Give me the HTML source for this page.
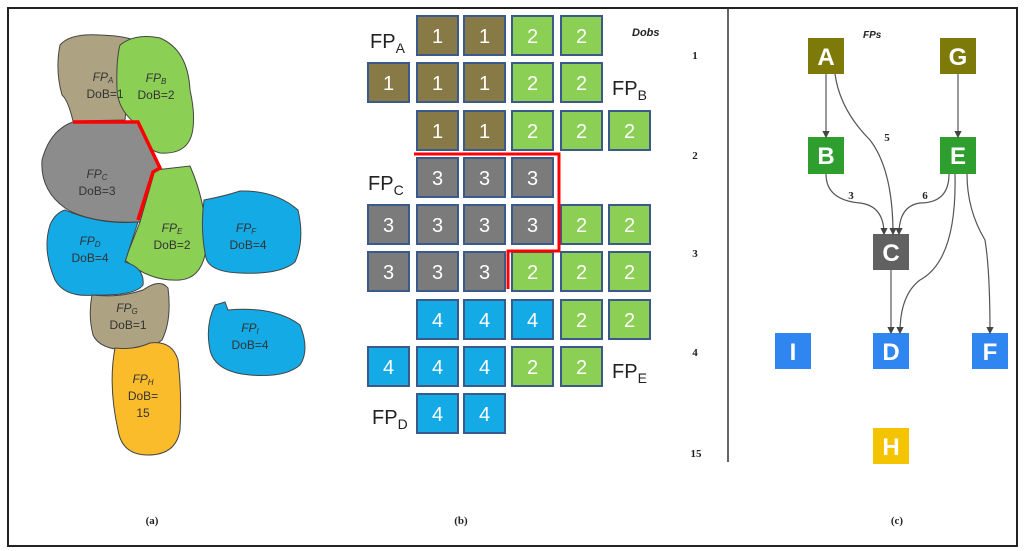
<!DOCTYPE html>
<html><head><meta charset="utf-8"><style>
html,body{margin:0;padding:0;background:#fff;}
svg{display:block;}
.c rect{width:41px;height:39px;stroke:#3a5a8c;stroke-width:2;}
.c text{font-size:20px;fill:#fff;text-anchor:middle;}
.k1 rect{fill:#877a47}.k2 rect{fill:#8ccf55}.k3 rect{fill:#7b7b7b}.k4 rect{fill:#14aae6}
</style></head><body>
<svg width="1024" height="551" viewBox="0 0 1024 551" xmlns="http://www.w3.org/2000/svg" font-family="Liberation Sans, sans-serif">
<rect x="8" y="8" width="1009" height="538" fill="#fff" stroke="#222" stroke-width="2"/>
<line x1="728" y1="8" x2="728" y2="462" stroke="#333" stroke-width="1.5"/>
<g stroke="#444" stroke-width="1">
<path d="M60,45 Q70,33 100,35 Q125,36 133,40 L125,120 L73,121 Q68,100 62,95 Q55,70 60,45Z" fill="#ada383"/>
<path d="M120,45 Q135,33 160,38 Q188,50 190,90 Q195,112 193,128 Q190,155 160,153 Q140,148 137,125 Q118,110 117,90 Q116,60 120,45Z" fill="#8ccf55"/>
<path d="M73,122 L138,122 L160,168 L140,222 Q90,224 65,208 Q40,190 42,160 Q50,130 73,122Z" fill="#8c8c8c"/>
<path d="M155,170 L190,166 Q205,200 207,240 Q205,278 180,280 Q150,282 125,260 L140,222Z" fill="#8ccf55"/>
<path d="M65,210 Q100,225 138,222 L125,262 Q145,268 143,285 Q135,296 95,295 Q65,298 55,280 Q42,250 50,225 Q55,213 65,210Z" fill="#14aae6"/>
<path d="M204,200 Q225,196 240,191 Q275,190 298,210 Q305,240 295,262 Q280,275 240,273 Q210,272 206,258 Q200,230 204,200Z" fill="#14aae6"/>
<path d="M215,305 L225,302 L228,310 Q275,306 300,325 Q310,350 300,365 Q285,378 250,375 Q215,372 210,350 Q205,325 215,305Z" fill="#14aae6"/>
<path d="M92,295 Q120,298 143,290 Q160,278 168,288 Q172,320 162,340 Q150,350 128,350 Q100,350 93,335 Q88,315 92,295Z" fill="#ada383"/>
<path d="M115,348 Q135,350 150,343 Q172,340 178,360 Q182,395 180,430 Q176,455 148,455 Q122,455 118,430 Q108,385 115,348Z" fill="#fbbc2c"/>
</g>
<path d="M73,122 L138,122 L160,168 L153,172 L138,220" fill="none" stroke="#f00" stroke-width="3.5"/>
<g font-size="12" fill="#333" text-anchor="middle">
<text x="103" y="81" font-style="italic">FP<tspan font-size="8" dy="2">A</tspan></text><text x="105" y="98">DoB=1</text>
<text x="156" y="82" font-style="italic">FP<tspan font-size="8" dy="2">B</tspan></text><text x="156" y="99">DoB=2</text>
<text x="97" y="178" font-style="italic">FP<tspan font-size="8" dy="2">C</tspan></text><text x="97" y="195">DoB=3</text>
<text x="90" y="245" font-style="italic">FP<tspan font-size="8" dy="2">D</tspan></text><text x="90" y="262">DoB=4</text>
<text x="172" y="232" font-style="italic">FP<tspan font-size="8" dy="2">E</tspan></text><text x="172" y="249">DoB=2</text>
<text x="246" y="232" font-style="italic">FP<tspan font-size="8" dy="2">F</tspan></text><text x="248" y="249">DoB=4</text>
<text x="127" y="312" font-style="italic">FP<tspan font-size="8" dy="2">G</tspan></text><text x="128" y="329">DoB=1</text>
<text x="143" y="383" font-style="italic">FP<tspan font-size="8" dy="2">H</tspan></text><text x="143" y="400">DoB=</text><text x="143" y="417">15</text>
<text x="250" y="332" font-style="italic">FP<tspan font-size="8" dy="2">I</tspan></text><text x="250" y="349">DoB=4</text>
</g>
<g class="c">
<g class="k1" transform="translate(417,16)"><rect/><text x="20.5" y="27">1</text></g>
<g class="k1" transform="translate(464,16)"><rect/><text x="20.5" y="27">1</text></g>
<g class="k2" transform="translate(512,16)"><rect/><text x="20.5" y="27">2</text></g>
<g class="k2" transform="translate(561,16)"><rect/><text x="20.5" y="27">2</text></g>

<g class="k1" transform="translate(368,63)"><rect/><text x="20.5" y="27">1</text></g>
<g class="k1" transform="translate(417,63)"><rect/><text x="20.5" y="27">1</text></g>
<g class="k1" transform="translate(464,63)"><rect/><text x="20.5" y="27">1</text></g>
<g class="k2" transform="translate(512,63)"><rect/><text x="20.5" y="27">2</text></g>
<g class="k2" transform="translate(561,63)"><rect/><text x="20.5" y="27">2</text></g>

<g class="k1" transform="translate(417,111)"><rect/><text x="20.5" y="27">1</text></g>
<g class="k1" transform="translate(464,111)"><rect/><text x="20.5" y="27">1</text></g>
<g class="k2" transform="translate(512,111)"><rect/><text x="20.5" y="27">2</text></g>
<g class="k2" transform="translate(561,111)"><rect/><text x="20.5" y="27">2</text></g>
<g class="k2" transform="translate(609,111)"><rect/><text x="20.5" y="27">2</text></g>

<g class="k3" transform="translate(417,158)"><rect/><text x="20.5" y="27">3</text></g>
<g class="k3" transform="translate(464,158)"><rect/><text x="20.5" y="27">3</text></g>
<g class="k3" transform="translate(512,158)"><rect/><text x="20.5" y="27">3</text></g>

<g class="k3" transform="translate(368,205)"><rect/><text x="20.5" y="27">3</text></g>
<g class="k3" transform="translate(417,205)"><rect/><text x="20.5" y="27">3</text></g>
<g class="k3" transform="translate(464,205)"><rect/><text x="20.5" y="27">3</text></g>
<g class="k3" transform="translate(512,205)"><rect/><text x="20.5" y="27">3</text></g>
<g class="k2" transform="translate(561,205)"><rect/><text x="20.5" y="27">2</text></g>
<g class="k2" transform="translate(609,205)"><rect/><text x="20.5" y="27">2</text></g>

<g class="k3" transform="translate(368,252)"><rect/><text x="20.5" y="27">3</text></g>
<g class="k3" transform="translate(417,252)"><rect/><text x="20.5" y="27">3</text></g>
<g class="k3" transform="translate(464,252)"><rect/><text x="20.5" y="27">3</text></g>
<g class="k2" transform="translate(512,252)"><rect/><text x="20.5" y="27">2</text></g>
<g class="k2" transform="translate(561,252)"><rect/><text x="20.5" y="27">2</text></g>
<g class="k2" transform="translate(609,252)"><rect/><text x="20.5" y="27">2</text></g>

<g class="k4" transform="translate(417,300)"><rect/><text x="20.5" y="27">4</text></g>
<g class="k4" transform="translate(464,300)"><rect/><text x="20.5" y="27">4</text></g>
<g class="k4" transform="translate(512,300)"><rect/><text x="20.5" y="27">4</text></g>
<g class="k2" transform="translate(561,300)"><rect/><text x="20.5" y="27">2</text></g>
<g class="k2" transform="translate(609,300)"><rect/><text x="20.5" y="27">2</text></g>

<g class="k4" transform="translate(368,347)"><rect/><text x="20.5" y="27">4</text></g>
<g class="k4" transform="translate(417,347)"><rect/><text x="20.5" y="27">4</text></g>
<g class="k4" transform="translate(464,347)"><rect/><text x="20.5" y="27">4</text></g>
<g class="k2" transform="translate(512,347)"><rect/><text x="20.5" y="27">2</text></g>
<g class="k2" transform="translate(561,347)"><rect/><text x="20.5" y="27">2</text></g>

<g class="k4" transform="translate(417,394)"><rect/><text x="20.5" y="27">4</text></g>
<g class="k4" transform="translate(464,394)"><rect/><text x="20.5" y="27">4</text></g>
</g>
<g font-size="20" fill="#222">
<text x="370" y="48">FP<tspan font-size="14" dy="5">A</tspan></text>
<text x="612" y="95">FP<tspan font-size="14" dy="5">B</tspan></text>
<text x="368" y="190">FP<tspan font-size="14" dy="5">C</tspan></text>
<text x="612" y="378">FP<tspan font-size="14" dy="5">E</tspan></text>
<text x="372" y="424">FP<tspan font-size="14" dy="5">D</tspan></text>
</g>
<text x="632" y="36" font-size="11" font-weight="bold" font-style="italic" fill="#222">Dobs</text>
<g font-family="Liberation Serif, serif" font-size="11" font-weight="bold" fill="#222" text-anchor="middle">
<text x="695" y="59">1</text><text x="695" y="159">2</text><text x="695" y="257">3</text><text x="695" y="356">4</text><text x="696" y="457">15</text>
<text x="152" y="524">(a)</text><text x="461" y="524">(b)</text><text x="897" y="524">(c)</text>
</g>
<g font-size="24" font-weight="bold" fill="#fff" text-anchor="middle">
<rect x="808" y="38" width="36" height="36" fill="#7d7a0a"/><text x="826" y="65">A</text>
<rect x="940" y="38" width="36" height="36" fill="#7d7a0a"/><text x="958" y="65">G</text>
<rect x="808" y="137" width="36" height="37" fill="#2e9e2e"/><text x="826" y="164">B</text>
<rect x="940" y="137" width="36" height="37" fill="#2e9e2e"/><text x="958" y="164">E</text>
<rect x="873" y="234" width="36" height="36" fill="#616161"/><text x="891" y="261">C</text>
<rect x="775" y="333" width="36" height="36" fill="#2f86f0"/><text x="793" y="360">I</text>
<rect x="873" y="333" width="36" height="36" fill="#2f86f0"/><text x="891" y="360">D</text>
<rect x="972" y="333" width="36" height="36" fill="#2f86f0"/><text x="990" y="360">F</text>
<rect x="873" y="428" width="36" height="36" fill="#f5c400"/><text x="891" y="455">H</text>
</g>
<text x="863" y="38" font-size="10" font-weight="bold" font-style="italic" fill="#222">FPs</text>
<defs><marker id="ar" markerWidth="6" markerHeight="6" refX="5" refY="3" orient="auto"><path d="M0,0 L6,3 L0,6Z" fill="#444"/></marker></defs>
<g fill="none" stroke="#555" stroke-width="1.2" marker-end="url(#ar)">
<path d="M826,74 L826,137"/>
<path d="M835,74 Q840,110 870,140 Q893,170 893,234"/>
<path d="M958,74 L958,137"/>
<path d="M826,174 Q826,200 860,203 Q884,206 884,234"/>
<path d="M949,174 Q949,203 920,203 Q899,206 899,234"/>
<path d="M955,174 Q957,260 920,280 Q900,295 900,333"/>
<path d="M967,174 Q967,210 985,240 Q990,270 990,333"/>
<path d="M891,270 L891,333"/>
</g>
<g font-family="Liberation Serif, serif" font-size="11" font-weight="bold" fill="#222" text-anchor="middle">
<text x="887" y="141">5</text><text x="851" y="199">3</text><text x="925" y="199">6</text>
</g>
<path d="M414,154 L559,154 L559,251 L508,251 L508,289" fill="none" stroke="#f00" stroke-width="3"/>
</svg>
</body></html>
